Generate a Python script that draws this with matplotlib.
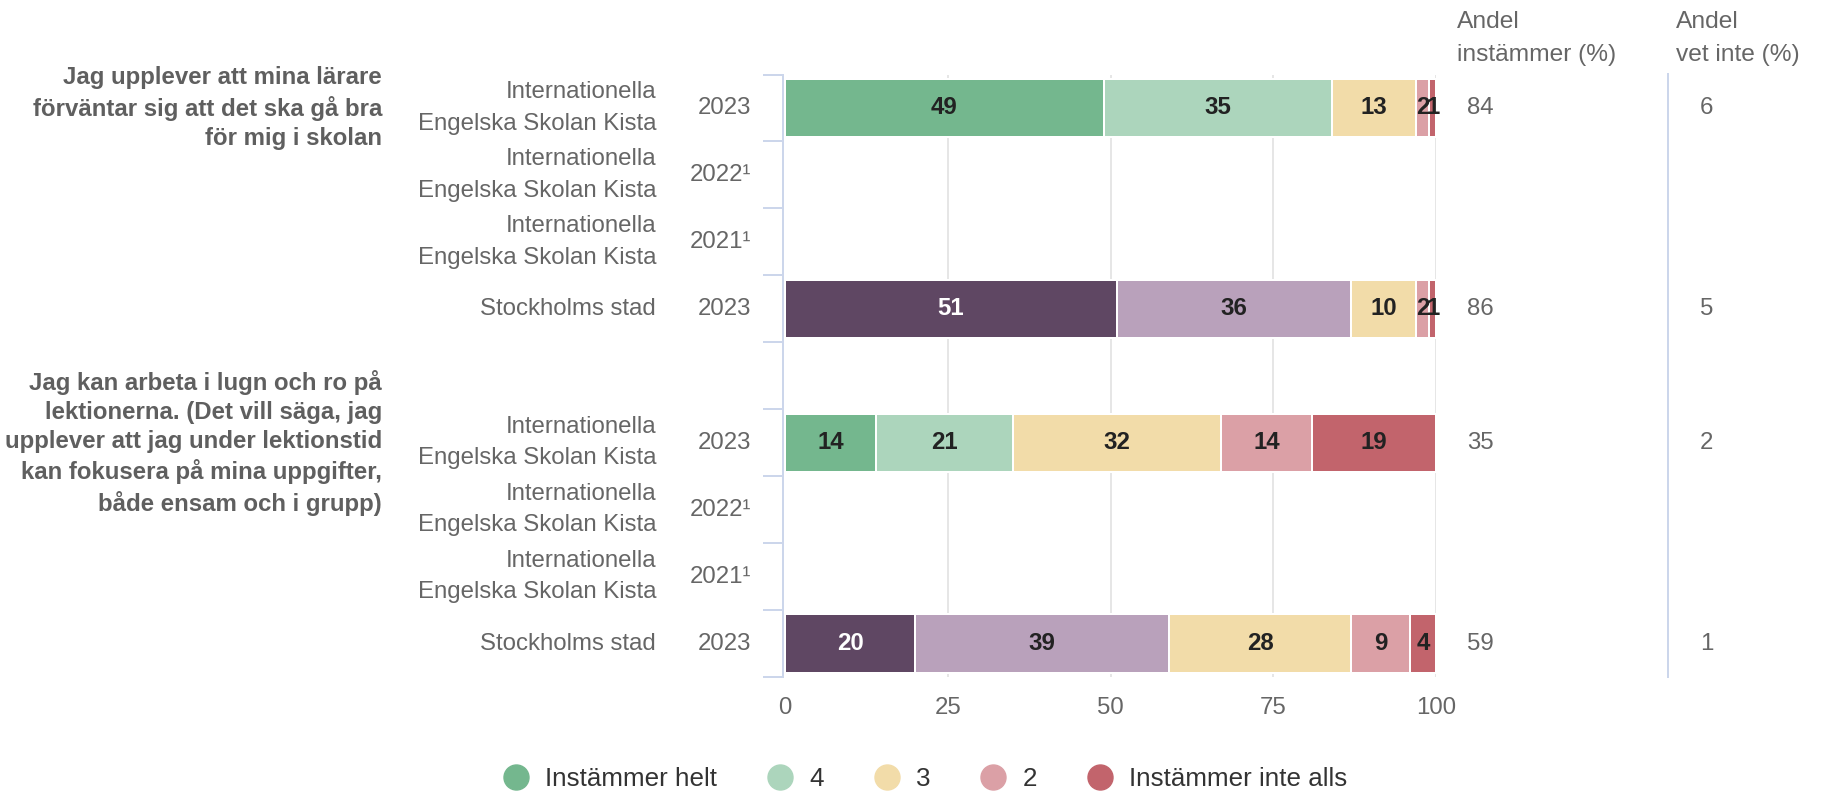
import matplotlib
matplotlib.use("Agg")
import matplotlib.pyplot as plt
import matplotlib.transforms as mtransforms
from matplotlib.lines import Line2D
import numpy as np

plt.rcParams['font.family'] = ['Liberation Sans', 'DejaVu Sans']

# ---------------- data ----------------
questions = [
    "Jag upplever att mina lärare\nförväntar sig att det ska gå bra\nför mig i skolan",
    "Jag kan arbeta i lugn och ro på\nlektionerna. (Det vill säga, jag\nupplever att jag under lektionstid\nkan fokusera på mina uppgifter,\nbåde ensam och i grupp)",
]
units = ["Internationella\nEngelska Skolan Kista", "Internationella\nEngelska Skolan Kista",
         "Internationella\nEngelska Skolan Kista", "Stockholms stad"]
years = ["2023", "2022¹", "2021¹", "2023"]
legend_labels = ["Instämmer helt", "4", "3", "2", "Instämmer inte alls"]

# values per question: rows (unit/year) x 5 answer categories; None = no data
q1_values = [[49, 35, 13, 2, 1], None, None, [51, 36, 10, 2, 1]]
q2_values = [[14, 21, 32, 14, 19], None, None, [20, 39, 28, 9, 4]]
q1_agree = [84, None, None, 86]
q2_agree = [35, None, None, 59]
q1_dontknow = [6, None, None, 5]
q2_dontknow = [2, None, None, 1]

xticks = [0, 25, 50, 75, 100]

# ---------------- style ----------------
school_colors = ["#74b78e", "#acd5bc", "#f2dca9", "#dba0a6", "#c2646c"]
city_colors = ["#5f4763", "#b9a1bb", "#f2dca9", "#dba0a6", "#c2646c"]
label_colors_school = ["#222222"] * 5
label_colors_city = ["#ffffff", "#222222", "#222222", "#222222", "#222222"]
gray = "#666666"
axis_blue = "#ccd6eb"

W, H = 1829, 792
dpi = 100
fig = plt.figure(figsize=(W / dpi, H / dpi), dpi=dpi)

def fx(px):
    return px / W

def fy(py):
    return 1 - py / H

PT = 72 / dpi  # points per pixel

ax_left, ax_right = 785, 1436
ax_top, ax_bot = 74.5, 677
ax = fig.add_axes([fx(ax_left), fy(ax_bot), fx(ax_right) - fx(ax_left), (ax_bot - ax_top) / H])

ax.set_xlim(0, 100)
ax.set_ylim(9, 0)

# grid
ax.set_xticks(xticks)
ax.set_xticklabels([str(t) for t in xticks])
ax.tick_params(axis='x', length=0, pad=20 * PT, labelsize=24 * PT, labelcolor=gray)
for t in xticks[1:]:
    ax.axvline(t, color="#e6e6e6", lw=2 * PT, zorder=0)

# spines
for s in ["top", "right", "bottom"]:
    ax.spines[s].set_visible(False)
ax.spines["left"].set_color(axis_blue)
ax.spines["left"].set_linewidth(2 * PT)
ax.spines["left"].set_position(('outward', 2 * PT))
ax.set_yticks(np.arange(0, 10))
ax.set_yticklabels([])
ax.tick_params(axis='y', length=20 * PT, width=2 * PT, color=axis_blue)

groups = [
    (questions[0], q1_values, q1_agree, q1_dontknow, 0),
    (questions[1], q2_values, q2_agree, q2_dontknow, 5),
]

trans_fig_data = mtransforms.blended_transform_factory(fig.transFigure, ax.transData)
bar_h = 0.87

for qtext, vals, agree, dk, start in groups:
    # question label centered on first row
    ax.text(fx(382), start + 0.5, qtext, transform=trans_fig_data, ha='right', va='center',
            multialignment='right', fontsize=24 * PT, fontweight='bold', color="#5f5f5f",
            linespacing=1.33)
    for i, row in enumerate(vals):
        yc = start + i + 0.5
        ax.text(fx(656), yc, units[i], transform=trans_fig_data, ha='right', va='center',
                multialignment='right', fontsize=24 * PT, color=gray, linespacing=1.55)
        ax.text(fx(751), yc, years[i], transform=trans_fig_data, ha='right', va='center',
                fontsize=24 * PT, color=gray)
        if row is None:
            continue
        is_city = units[i] == "Stockholms stad"
        cols = city_colors if is_city else school_colors
        lcols = label_colors_city if is_city else label_colors_school
        left = 0
        for j, v in enumerate(row):
            ax.barh(yc, v, left=left, height=bar_h, color=cols[j], edgecolor='white',
                    linewidth=2 * PT, zorder=2)
            ax.text(left + v / 2, yc, str(v), ha='center', va='center', fontsize=24 * PT,
                    fontweight='bold', color=lcols[j], zorder=3)
            left += v
        ax.text(fx(1467), yc, str(agree[i]), transform=trans_fig_data, ha='left', va='center',
                fontsize=24 * PT, color=gray)
        ax.text(fx(1700), yc, str(dk[i]), transform=trans_fig_data, ha='left', va='center',
                fontsize=24 * PT, color=gray)

# right column separator line
fig.add_artist(Line2D([fx(1668), fx(1668)], [fy(74), fy(677)], color=axis_blue, lw=2 * PT))

# headers
fig.text(fx(1457), fy(22), "Andel", ha='left', va='center', fontsize=24.5 * PT, color=gray)
fig.text(fx(1457), fy(55), "instämmer (%)", ha='left', va='center', fontsize=24.5 * PT, color=gray)
fig.text(fx(1676), fy(22), "Andel", ha='left', va='center', fontsize=24.5 * PT, color=gray)
fig.text(fx(1676), fy(55), "vet inte (%)", ha='left', va='center', fontsize=24.5 * PT, color=gray)

# legend
handles = [Line2D([0], [0], marker='o', linestyle='none', markersize=25 * PT,
                  markerfacecolor=c, markeredgecolor=c) for c in school_colors]
fig.legend(handles, legend_labels, loc='center', bbox_to_anchor=(fx(925), fy(779)),
           ncol=5, frameon=False, fontsize=26 * PT, labelcolor="#333333",
           handlelength=1.0, handletextpad=0.62, columnspacing=1.92, borderpad=0,
           borderaxespad=0)

fig.savefig("out.png", dpi=dpi)
